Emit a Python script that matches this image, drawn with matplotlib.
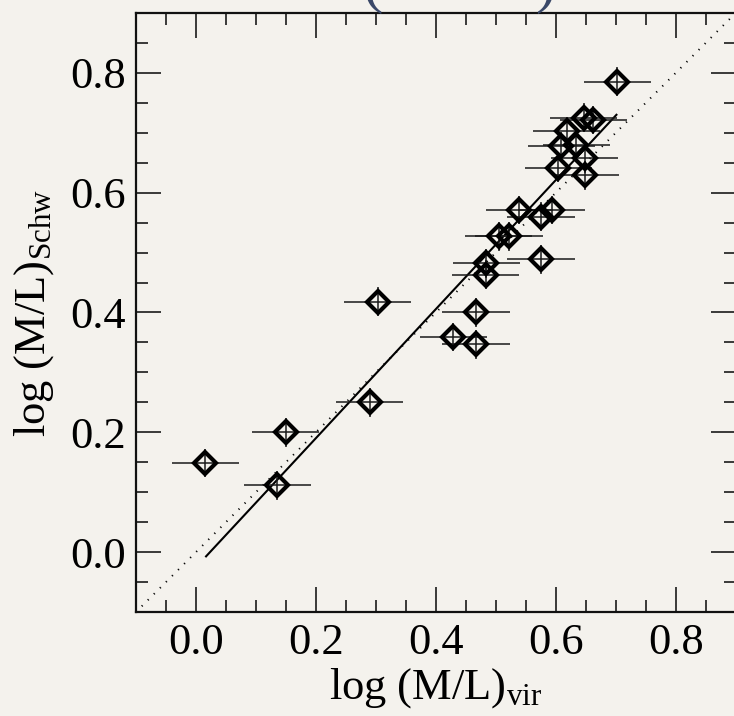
import matplotlib
matplotlib.use("Agg")
import matplotlib.pyplot as plt

# ---- data ----
ml_vir = [0.016, 0.136, 0.150, 0.290, 0.303, 0.429, 0.467, 0.467, 0.483, 0.484,
          0.505, 0.522, 0.539, 0.575, 0.593, 0.575, 0.604, 0.609, 0.618, 0.634,
          0.646, 0.662, 0.648, 0.649, 0.702]
ml_schw = [0.149, 0.112, 0.200, 0.250, 0.418, 0.359, 0.400, 0.347, 0.463, 0.482,
           0.527, 0.527, 0.571, 0.560, 0.571, 0.489, 0.641, 0.677, 0.702, 0.679,
           0.725, 0.721, 0.657, 0.629, 0.785]
xerr = [0.056] * len(ml_vir)
yerr = [0.024] * len(ml_vir)
fit_x = [0.016, 0.702]
fit_y = [-0.008, 0.731]
one_to_one = [-0.1, 0.9]
xticks = [0.0, 0.2, 0.4, 0.6, 0.8]
yticks = [0.0, 0.2, 0.4, 0.6, 0.8]

plt.rcParams['font.family'] = ['Liberation Serif', 'DejaVu Serif']
plt.rcParams['mathtext.fontset'] = 'custom'
plt.rcParams['mathtext.rm'] = 'Liberation Serif'
plt.rcParams['mathtext.it'] = 'Liberation Serif:italic'

bg = '#f4f2ed'
fig = plt.figure(figsize=(7.34, 7.16), dpi=100, facecolor=bg)
W, H = 734, 716
ax = fig.add_axes([135.7 / W, 1 - 612.3 / H, (736 - 135.7) / W, (612.3 - 12.7) / H])
ax.set_facecolor(bg)

ax.plot(one_to_one, one_to_one, color='black', lw=1.4, linestyle=(0, (0.6, 3.8)))
ax.plot(fit_x, fit_y, color='black', lw=1.5, solid_capstyle='butt')
ax.errorbar(ml_vir, ml_schw, xerr=xerr, yerr=yerr, fmt='none', ecolor='#1a1a1a',
            elinewidth=1.1, capsize=0)
ax.plot(ml_vir, ml_schw, linestyle='none', marker='D', ms=11, mfc='none',
        mec='black', mew=3.0)

ax.set_xlim(-0.1, 0.9)
ax.set_ylim(-0.1, 0.9)
ax.set_xticks(xticks)
ax.set_yticks(yticks)
ax.set_xticklabels([f"{v:.1f}" for v in xticks])
ax.set_yticklabels([f"{v:.1f}" for v in yticks])
ax.set_xticks([-0.05, 0.05, 0.1, 0.15, 0.25, 0.3, 0.35, 0.45, 0.5, 0.55, 0.65, 0.7, 0.75, 0.85], minor=True)
ax.set_yticks([-0.05, 0.05, 0.1, 0.15, 0.25, 0.3, 0.35, 0.45, 0.5, 0.55, 0.65, 0.7, 0.75, 0.85], minor=True)
ax.tick_params(which='both', direction='in', top=True, right=True, width=1.2, color='#1a1a1a')
ax.tick_params(which='major', length=18, labelsize=32)
ax.tick_params(axis='x', which='major', pad=8)
ax.tick_params(axis='y', which='major', pad=7)
ax.tick_params(which='minor', length=8.5)
for s in ax.spines.values():
    s.set_linewidth(1.6)
    s.set_color('#111111')

ax.set_xlabel(r"log (M/L)$_{\rm vir}$", fontsize=32, labelpad=2)
ax.set_ylabel(r"log (M/L)$_{\rm Schw}$", fontsize=32, labelpad=10)

# partially visible title (cut off at the top)
fig.text(372 / W, 1 - 14 / H, "(", fontsize=44, color='#3a4868', ha='center', va='bottom')
fig.text(545 / W, 1 - 14 / H, ")", fontsize=44, color='#3a4868', ha='center', va='bottom')

fig.savefig("out.png", dpi=100, facecolor=bg)
